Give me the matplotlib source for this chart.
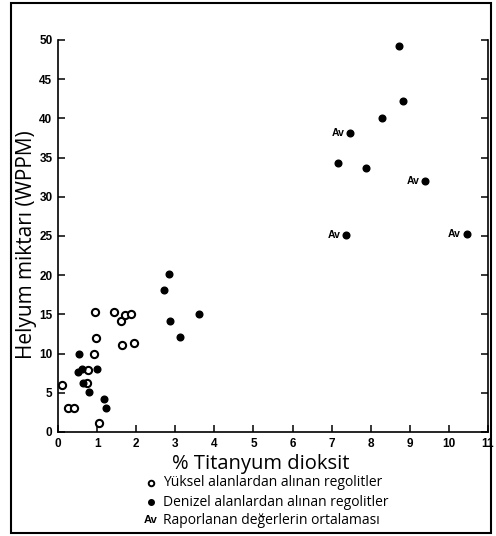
import matplotlib.pyplot as plt
from matplotlib.lines import Line2D
from matplotlib.patches import Rectangle

# Yüksel alanlardan alınan regolitler (open circles)
highland_x = [0.09, 0.26, 0.41, 0.95, 0.97, 0.92, 1.05, 1.44, 1.60, 1.71, 1.87, 1.63, 1.94, 0.76, 0.74]
highland_y = [6.0, 3.0, 3.0, 15.3, 12.0, 10.0, 1.1, 15.3, 14.2, 14.9, 15.1, 11.1, 11.3, 7.9, 6.2]

# Denizel alanlardan alınan regolitler (filled circles)
mare_x = [0.54, 0.50, 0.61, 1.01, 0.65, 0.79, 1.17, 1.22, 2.72, 2.84, 2.86, 3.13, 3.61,
          8.72, 8.82, 8.30, 7.17, 7.89]
mare_y = [10.0, 7.7, 8.0, 8.0, 6.2, 5.1, 4.2, 3.1, 18.1, 20.1, 14.2, 12.1, 15.0,
          49.2, 42.2, 40.1, 34.3, 33.7]

# Raporlanan değerlerin ortalaması (Av)
avg_x = [7.48, 9.39, 7.38, 10.45]
avg_y = [38.2, 32.0, 25.1, 25.3]

x_ticks = list(range(0, 12))
y_ticks = list(range(0, 55, 5))

W, H = 496, 536
fig = plt.figure(figsize=(W / 100, H / 100), dpi=100)
ax = fig.add_axes([58 / W, 1 - 432 / H, 430 / W, 392 / H])

ax.plot(highland_x, highland_y, 'o', ms=5.2, mfc='white', mec='black', mew=1.5, clip_on=False, zorder=3)
ax.plot(mare_x, mare_y, 'o', ms=4.8, color='black', clip_on=False, zorder=3)
ax.plot(avg_x, avg_y, 'o', ms=4.8, color='black', clip_on=False, zorder=3)
for x, y in zip(avg_x, avg_y):
    ax.annotate('Av', (x, y), xytext=(-4, 0), textcoords='offset points',
                ha='right', va='center', fontsize=7.5, fontweight='bold',
                family='Liberation Sans')

ax.set_xlim(0, 11)
ax.set_ylim(0, 50)
ax.set_xticks(x_ticks)
ax.set_yticks(y_ticks)
ax.spines['top'].set_visible(False)
for s in ['left', 'bottom', 'right']:
    ax.spines[s].set_linewidth(1.2)
ax.tick_params(direction='in', length=5, width=1.1, labelsize=8.5, pad=4)
ax.tick_params(axis='y', right=True)
for lab in ax.get_xticklabels() + ax.get_yticklabels():
    lab.set_fontweight('bold')
    lab.set_family('Liberation Sans')

ax.set_xlabel('% Titanyum dioksit', fontsize=14.5, family='Open Sans')
ax.xaxis.set_label_coords((261 - 58) / 430, -22 / 392, transform=ax.transAxes)
ax.set_ylabel('Helyum miktarı (WPPM)', fontsize=15, family='Open Sans')
ax.yaxis.set_label_coords(-21 / 430, (432 - 245) / 392, transform=ax.transAxes)

# legend below the axes
rows = [483, 502, 520]
labels = ['Yüksel alanlardan alınan regolitler',
          'Denizel alanlardan alınan regolitler',
          'Raporlanan değerlerin ortalaması']
fig.add_artist(Line2D([151 / W], [1 - rows[0] / H], marker='o', ms=4, mfc='white',
                      mec='black', mew=1.4, ls='none'))
fig.add_artist(Line2D([151 / W], [1 - rows[1] / H], marker='o', ms=4, color='black', ls='none'))
fig.text(158 / W, 1 - rows[2] / H, 'Av', ha='right', va='center', fontsize=8,
         fontweight='bold', family='Liberation Sans')
for r, t in zip(rows, labels):
    fig.text(163 / W, 1 - r / H, t, ha='left', va='center', fontsize=10, family='Open Sans')

# outer frame
fig.add_artist(Rectangle((11 / W, 1 - 533 / H), 480 / W, 530 / H, transform=fig.transFigure,
                         fill=False, lw=1.5, ec='black'))

fig.savefig('out.png', dpi=100)
